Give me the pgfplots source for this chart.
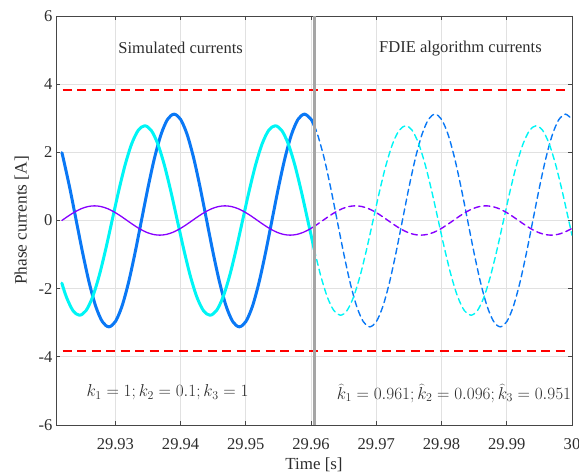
\documentclass[border=0pt]{standalone}
\usepackage{pgfplots}
\pgfplotsset{compat=1.18}
\usepackage{fontspec}
\setmainfont{Liberation Serif}

\definecolor{phA}{RGB}{10,120,245}
\definecolor{phB}{RGB}{0,245,245}
\definecolor{phC}{RGB}{135,0,255}
\definecolor{lim}{RGB}{255,0,0}
\definecolor{sep}{RGB}{165,165,165}
\definecolor{axc}{RGB}{70,70,70}
\definecolor{txt}{RGB}{45,45,45}
\definecolor{grd}{RGB}{225,225,225}

\begin{document}
\begin{tikzpicture}
\begin{axis}[
  at={(0,0)}, anchor=south west,
  scale only axis, width=516bp, height=409bp,
  xmin=29.9209, xmax=30, ymin=-6, ymax=6,
  scaled x ticks=false, scaled y ticks=false,
  xtick={29.93,29.94,29.95,29.96,29.97,29.98,29.99,30},
  xticklabels={29.93,29.94,29.95,29.96,29.97,29.98,29.99,30},
  ytick={-6,-4,-2,0,2,4,6},
  yticklabels={-6,-4,-2,0,2,4,6},
  tick align=inside, major tick length=4bp,
  grid=major, major grid style={grd, line width=0.7bp},
  axis line style={axc, line width=0.7bp},
  tick style={axc, line width=0.7bp},
  font=\fontsize{16.6}{19}\selectfont,
  tick label style={txt},
  xticklabel style={yshift=-10bp},
  label style={txt},
  xlabel={Time [s]}, ylabel={Phase currents [A]},
  xlabel style={yshift=-1bp, font=\fontsize{17}{19}\selectfont},
  ylabel style={yshift=3bp, font=\fontsize{17.4}{19}\selectfont},
  every axis plot/.append style={line join=round, line cap=round},
  clip=true,
]
% simulated phase currents (solid)
\addplot[phA, line width=3bp, smooth] coordinates {
(29.9218,1.99) (29.922,1.834) (29.923,0.964) (29.924,0) (29.925,-0.964)
(29.926,-1.834) (29.927,-2.524) (29.928,-2.967) (29.929,-3.12) (29.930,-2.967)
(29.931,-2.524) (29.932,-1.834) (29.933,-0.964) (29.934,0) (29.935,0.964)
(29.936,1.834) (29.937,2.524) (29.938,2.967) (29.939,3.12) (29.940,2.967)
(29.941,2.524) (29.942,1.834) (29.943,0.964) (29.944,0) (29.945,-0.964)
(29.946,-1.834) (29.947,-2.524) (29.948,-2.967) (29.949,-3.12) (29.950,-2.967)
(29.951,-2.524) (29.952,-1.834) (29.953,-0.964) (29.954,0) (29.955,0.964)
(29.956,1.834) (29.957,2.524) (29.958,2.967) (29.959,3.12) (29.960,2.967)
(29.9605,2.78)};
\addplot[phB, line width=3bp, smooth] coordinates {
(29.9218,-1.838) (29.9225,-2.249) (29.9235,-2.644) (29.9245,-2.78) (29.9255,-2.644)
(29.9265,-2.249) (29.9275,-1.634) (29.9285,-0.859) (29.9295,0) (29.9305,0.859)
(29.9315,1.634) (29.9325,2.249) (29.9335,2.644) (29.9345,2.78) (29.9355,2.644)
(29.9365,2.249) (29.9375,1.634) (29.9385,0.859) (29.9395,0) (29.9405,-0.859)
(29.9415,-1.634) (29.9425,-2.249) (29.9435,-2.644) (29.9445,-2.78) (29.9455,-2.644)
(29.9465,-2.249) (29.9475,-1.634) (29.9485,-0.859) (29.9495,0) (29.9505,0.859)
(29.9515,1.634) (29.9525,2.249) (29.9535,2.644) (29.9545,2.78) (29.9555,2.644)
(29.9565,2.249) (29.9575,1.634) (29.9585,0.859) (29.9595,0) (29.9605,-0.859)};
\addplot[phC, line width=1.3bp, smooth] coordinates {
(29.9218,0) (29.9228,0.133) (29.9238,0.253) (29.9248,0.348) (29.9258,0.409)
(29.9268,0.43) (29.9278,0.409) (29.9288,0.348) (29.9298,0.253) (29.9308,0.133)
(29.9318,0) (29.9328,-0.133) (29.9338,-0.253) (29.9348,-0.348) (29.9358,-0.409)
(29.9368,-0.43) (29.9378,-0.409) (29.9388,-0.348) (29.9398,-0.253) (29.9408,-0.133)
(29.9418,0) (29.9428,0.133) (29.9438,0.253) (29.9448,0.348) (29.9458,0.409)
(29.9468,0.43) (29.9478,0.409) (29.9488,0.348) (29.9498,0.253) (29.9508,0.133)
(29.9518,0) (29.9528,-0.133) (29.9538,-0.253) (29.9548,-0.348) (29.9558,-0.409)
(29.9568,-0.43) (29.9578,-0.409) (29.9588,-0.348) (29.9598,-0.253) (29.9605,-0.171)};
% currents estimated by the FDIE algorithm (dashed)
\addplot[phA, line width=1.4bp, smooth, dash pattern=on 6bp off 4bp] coordinates {
(29.9605,2.78) (29.961,2.524) (29.962,1.834) (29.963,0.964) (29.964,0)
(29.965,-0.964) (29.966,-1.834) (29.967,-2.524) (29.968,-2.967) (29.969,-3.12)
(29.970,-2.967) (29.971,-2.524) (29.972,-1.834) (29.973,-0.964) (29.974,0)
(29.975,0.964) (29.976,1.834) (29.977,2.524) (29.978,2.967) (29.979,3.12)
(29.980,2.967) (29.981,2.524) (29.982,1.834) (29.983,0.964) (29.984,0)
(29.985,-0.964) (29.986,-1.834) (29.987,-2.524) (29.988,-2.967) (29.989,-3.12)
(29.990,-2.967) (29.991,-2.524) (29.992,-1.834) (29.993,-0.964) (29.994,0)
(29.995,0.964) (29.996,1.834) (29.997,2.524) (29.998,2.967) (29.999,3.12)
(30.000,2.967)};
\addplot[phB, line width=1.4bp, smooth, dash pattern=on 6bp off 4bp] coordinates {
(29.9605,-0.859) (29.9615,-1.634) (29.9625,-2.249) (29.9635,-2.644) (29.9645,-2.78)
(29.9655,-2.644) (29.9665,-2.249) (29.9675,-1.634) (29.9685,-0.859) (29.9695,0)
(29.9705,0.859) (29.9715,1.634) (29.9725,2.249) (29.9735,2.644) (29.9745,2.78)
(29.9755,2.644) (29.9765,2.249) (29.9775,1.634) (29.9785,0.859) (29.9795,0)
(29.9805,-0.859) (29.9815,-1.634) (29.9825,-2.249) (29.9835,-2.644) (29.9845,-2.78)
(29.9855,-2.644) (29.9865,-2.249) (29.9875,-1.634) (29.9885,-0.859) (29.9895,0)
(29.9905,0.859) (29.9915,1.634) (29.9925,2.249) (29.9935,2.644) (29.9945,2.78)
(29.9955,2.644) (29.9965,2.249) (29.9975,1.634) (29.9985,0.859) (29.9995,0)
(30.000,-0.435)};
\addplot[phC, line width=1.4bp, smooth, dash pattern=on 6bp off 4bp] coordinates {
(29.9605,-0.171) (29.9608,-0.133) (29.9618,0) (29.9628,0.133) (29.9638,0.253)
(29.9648,0.348) (29.9658,0.409) (29.9668,0.43) (29.9678,0.409) (29.9688,0.348)
(29.9698,0.253) (29.9708,0.133) (29.9718,0) (29.9728,-0.133) (29.9738,-0.253)
(29.9748,-0.348) (29.9758,-0.409) (29.9768,-0.43) (29.9778,-0.409) (29.9788,-0.348)
(29.9798,-0.253) (29.9808,-0.133) (29.9818,0) (29.9828,0.133) (29.9838,0.253)
(29.9848,0.348) (29.9858,0.409) (29.9868,0.43) (29.9878,0.409) (29.9888,0.348)
(29.9898,0.253) (29.9908,0.133) (29.9918,0) (29.9928,-0.133) (29.9938,-0.253)
(29.9948,-0.348) (29.9958,-0.409) (29.9968,-0.43) (29.9978,-0.409) (29.9988,-0.348)
(29.9998,-0.253) (30.000,-0.230)};
% current limits
\addplot[lim, line width=1.9bp, line cap=butt, dash pattern=on 9bp off 5.5bp] coordinates {(29.9219,3.83) (29.9992,3.83)};
\addplot[lim, line width=1.9bp, line cap=butt, dash pattern=on 9bp off 5.5bp] coordinates {(29.9219,-3.83) (29.9992,-3.83)};
% switch-over instant
\addplot[sep, line width=2.6bp, line cap=butt] coordinates {(29.9605,-6) (29.9605,6)};

\node[txt] at (axis cs:29.94,5.07) {Simulated currents};
\node[txt] at (axis cs:29.9829,5.05) {FDIE algorithm currents};
\node[txt] at (axis cs:29.938,-5.05) {$k_1=1; k_2=0.1; k_3=1$};
\node[txt] at (axis cs:29.9819,-5.07) {$\widehat{k}_1=0.961; \widehat{k}_2=0.096; \widehat{k}_3=0.951$};
\end{axis}
\pgfresetboundingbox
\path[use as bounding box] (-56bp,-48bp) rectangle (523bp,425bp);
\end{tikzpicture}
\end{document}
